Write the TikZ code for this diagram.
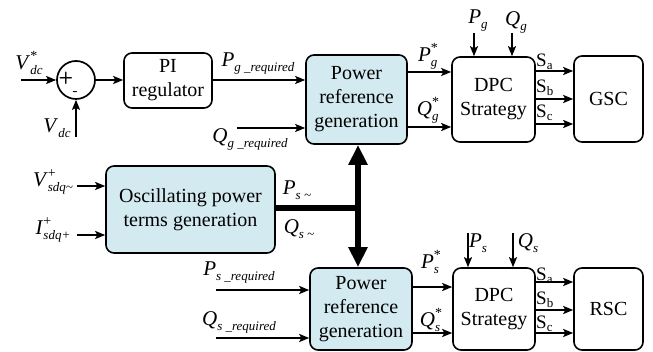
\documentclass[tikz,border=0pt]{standalone}
\usepackage{fontspec}
\setmainfont{Liberation Serif}
\usetikzlibrary{arrows.meta,calc}
\definecolor{boxblue}{HTML}{D3EAF0}
\newcommand\vlab[3]{\textit{#1}\sbox0{\fontsize{13}{13}\selectfont #2}\sbox2{\fontsize{14}{14}\selectfont #3}\dimen0=\wd0 \ifdim\wd2>\dimen0 \dimen0=\wd2 \fi\makebox[\dimen0][l]{\rlap{\raisebox{-5pt}{\usebox0}}\raisebox{9pt}{\usebox2}}}
\newcommand\slab[2]{S\raisebox{-3pt}{\fontsize{13}{13}\selectfont #2}}
\begin{document}
\begin{tikzpicture}[x=1pt,y=-1pt,
  blk/.style={draw,line width=1.6pt,rounded corners=8pt,align=center,font=\fontsize{20}{24}\selectfont,inner sep=0pt},
  blue/.style={blk,fill=boxblue},
  lab/.style={font=\fontsize{21}{21}\selectfont,inner sep=0pt},
  slabel/.style={font=\fontsize{19}{19}\selectfont,inner sep=0pt,anchor=west},
  sign/.style={font=\sffamily\bfseries\fontsize{17}{17}\selectfont,inner sep=0pt},
  arr/.style={line width=1.7pt,-{Stealth[length=10pt,width=8pt,inset=2pt]}},
  big/.style={line width=5.5pt,{Triangle[length=20pt,width=18pt]}-{Triangle[length=20pt,width=18pt]}}]
\useasboundingbox (0,0) rectangle (653,352);
% blocks
\node[circle,draw,line width=1.7pt,minimum size=38pt,inner sep=0pt] (S) at (76,80) {};
\node[blk,minimum width=88pt,minimum height=55pt] (PI) at (168,80.5) {PI\\regulator};
\node[blue,minimum width=101pt,minimum height=89pt] (PRt) at (356.5,99.5) {Power\\reference\\generation};
\node[blk,minimum width=83pt,minimum height=85pt] (DPCt) at (493.5,99.5) {DPC\\Strategy};
\node[blk,minimum width=69pt,minimum height=86pt] (GSC) at (608.5,99) {GSC};
\node[blue,minimum width=169pt,minimum height=87pt] (Osc) at (190.5,209.5) {Oscillating power\\terms generation};
\node[blue,minimum width=102pt,minimum height=82pt] (PRb) at (361,309) {Power\\reference\\generation};
\node[blk,minimum width=82pt,minimum height=82pt] (DPCb) at (494,309) {DPC\\Strategy};
\node[blk,minimum width=69pt,minimum height=82pt] (RSC) at (608.5,309) {RSC};
% signs in summing junction
\node[sign] (plus) at (66,78.5) {+};
\node[sign,font=\sffamily\bfseries\fontsize{15}{15}\selectfont] (minus) at (75.5,94) {-};
% free ends
\coordinate (vin) at (21,80);
\coordinate (vdcin) at (76,137);
\coordinate (qgr) at (237,128);
\coordinate (yPg) at (0,72);
\coordinate (yQg) at (0,127);
\coordinate (pgin) at (474,33);
\coordinate (qgin) at (512,33);
\coordinate (ya) at (0,71);
\coordinate (yb) at (0,99);
\coordinate (yc) at (0,124);
\coordinate (vsin) at (77,186);
\coordinate (isin) at (77,235);
\coordinate (J) at (358,208);
\coordinate (psr) at (216,290);
\coordinate (qsr) at (216,338);
\coordinate (yPs) at (0,287);
\coordinate (yQs) at (0,333);
\coordinate (psin) at (468,233);
\coordinate (qsin) at (513,233);
\coordinate (yas) at (0,282);
\coordinate (ybs) at (0,310);
\coordinate (ycs) at (0,333);
% connectors
\draw[arr] (vin) -- (S.west);
\draw[arr] (vdcin) -- (S.south);
\draw[arr] (S.east) -- (S.east -| PI.west);
\draw[arr] (PI.east |- S) -- (S -| PRt.west);
\draw[arr] (qgr) -- (qgr -| PRt.west);
\draw[arr] (PRt.east |- yPg) -- (DPCt.west |- yPg);
\draw[arr] (PRt.east |- yQg) -- (DPCt.west |- yQg);
\draw[arr] (pgin) -- (pgin |- DPCt.north);
\draw[arr] (qgin) -- (qgin |- DPCt.north);
\draw[arr] (DPCt.east |- ya) -- (GSC.west |- ya);
\draw[arr] (DPCt.east |- yb) -- (GSC.west |- yb);
\draw[arr] (DPCt.east |- yc) -- (GSC.west |- yc);
\draw[arr] (vsin) -- (vsin -| Osc.west);
\draw[arr] (isin) -- (isin -| Osc.west);
\draw[line width=5.5pt] (Osc.east |- J) -- ([xshift=2.75pt]J);
\draw[big] (J |- PRt.south) -- (J |- PRb.north);
\draw[arr] (psr) -- (psr -| PRb.west);
\draw[arr] (qsr) -- (qsr -| PRb.west);
\draw[arr] (PRb.east |- yPs) -- (DPCb.west |- yPs);
\draw[arr] (PRb.east |- yQs) -- (DPCb.west |- yQs);
\draw[arr] (psin) -- (psin |- DPCb.north);
\draw[arr] (qsin) -- (qsin |- DPCb.north);
\draw[arr] (DPCb.east |- yas) -- (RSC.west |- yas);
\draw[arr] (DPCb.east |- ybs) -- (RSC.west |- ybs);
\draw[arr] (DPCb.east |- ycs) -- (RSC.west |- ycs);
% labels
\node[lab] (lVdcs) at (29,63) {\vlab{V}{\itshape dc}{*}};
\node[lab] (lVdc) at (57,128) {\vlab{V}{\itshape dc}{}};
\node[lab] (lPgr) at (258,64) {\vlab{P}{\itshape g \_required}{}};
\node[lab] (lQgr) at (250,139) {\vlab{Q}{\itshape g \_required}{}};
\node[lab] (lPgs) at (428,56) {\vlab{P}{\itshape g}{*}};
\node[lab] (lQgs) at (428,110) {\vlab{Q}{\itshape g}{*}};
\node[lab] (lPg) at (478,21) {\vlab{P}{\itshape g}{}};
\node[lab] (lQg) at (516,22) {\vlab{Q}{\itshape g}{}};
\node[slabel] (lSa) at (536,62) {\slab{S}{a}};
\node[slabel] (lSb) at (536,88) {\slab{S}{b}};
\node[slabel] (lSc) at (536,113) {\slab{S}{c}};
\node[lab] (lVs) at (53,182) {\vlab{V}{\itshape sdq\textasciitilde}{+}};
\node[lab] (lIs) at (53,230) {\vlab{I}{\itshape sdq+}{+}};
\node[lab] (lPso) at (297,190) {\vlab{P}{\itshape s \textasciitilde}{}};
\node[lab] (lQso) at (299,229) {\vlab{Q}{\itshape s \textasciitilde}{}};
\node[lab] (lPsr) at (239,273) {\vlab{P}{\itshape s \_required}{}};
\node[lab] (lQsr) at (239,322) {\vlab{Q}{\itshape s \_required}{}};
\node[lab] (lPss) at (431,262) {\vlab{P}{\itshape s}{*}};
\node[lab] (lQss) at (431,320) {\vlab{Q}{\itshape s}{*}};
\node[lab] (lPs) at (478,243) {\vlab{P}{\itshape s}{}};
\node[lab] (lQs) at (528,243) {\vlab{Q}{\itshape s}{}};
\node[slabel] (lSas) at (536,276) {\slab{S}{a}};
\node[slabel] (lSbs) at (536,300) {\slab{S}{b}};
\node[slabel] (lScs) at (536,324) {\slab{S}{c}};
\end{tikzpicture}
\end{document}
